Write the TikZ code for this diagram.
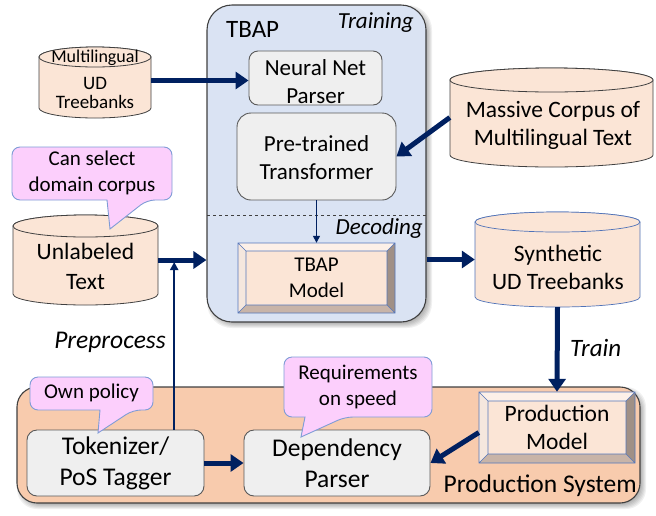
\documentclass[tikz,border=0pt]{standalone}
\usepackage{fontspec}
\setmainfont{Carlito}
\usetikzlibrary{arrows.meta}

\definecolor{navy}{HTML}{002060}
\definecolor{tbapfill}{HTML}{DAE3F3}
\definecolor{prodfill}{HTML}{F8CBAD}
\definecolor{cylfill}{HTML}{FBE5D6}
\definecolor{boxfill}{HTML}{EFEFEF}
\definecolor{boxline}{HTML}{595959}
\definecolor{frameline}{HTML}{404040}
\definecolor{pinkfill}{HTML}{FCCFFC}
\definecolor{pinkline}{HTML}{7F9CD6}
\definecolor{bevlight}{HTML}{FDF0E8}
\definecolor{bevdark}{HTML}{A09086}
\definecolor{bevmid}{HTML}{C8B4A8}
\definecolor{bevedge}{HTML}{5577BB}
\definecolor{synline}{HTML}{4F72B8}

\newcommand\fsz[2]{\fontsize{#1}{#2}\selectfont}

% database drum: style, left, top, right, bottom, radius of the end ellipses
\newcommand\drum[6]{%
  \path[#1] (#2,#3+#6) -- (#2,#5-#6)
    arc[start angle=180, end angle=0, x radius={(#4-#2)/2}, y radius=#6]
    -- (#4,#3+#6)
    arc[start angle=0, end angle=-180, x radius={(#4-#2)/2}, y radius=#6] -- cycle;
  \path[#1] ({(#2+#4)/2},#3+#6) ellipse[x radius={(#4-#2)/2}, y radius=#6];
}

% bevelled model box: left, top, right, bottom, bevel depth
\newcommand\bevel[5]{%
  \fill[bevlight] (#1,#2) -- (#3,#2) -- (#3-#5,#2+#5) -- (#1+#5,#2+#5) -- cycle;
  \fill[bevlight!85!bevmid] (#1,#2) -- (#1+#5,#2+#5) -- (#1+#5,#4-#5) -- (#1,#4) -- cycle;
  \fill[bevdark] (#3,#2) -- (#3,#4) -- (#3-#5,#4-#5) -- (#3-#5,#2+#5) -- cycle;
  \fill[bevmid] (#1,#4) -- (#3,#4) -- (#3-#5,#4-#5) -- (#1+#5,#4-#5) -- cycle;
  \fill[cylfill] (#1+#5,#2+#5) rectangle (#3-#5,#4-#5);
  \draw[bevedge, line width=0.6pt] (#1,#2) rectangle (#3,#4)
    (#1+#5,#2+#5) rectangle (#3-#5,#4-#5)
    (#1,#2) -- (#1+#5,#2+#5) (#3,#2) -- (#3-#5,#2+#5)
    (#1,#4) -- (#1+#5,#4-#5) (#3,#4) -- (#3-#5,#4-#5);
}

% speech balloon: left, top, right, bottom, pointer base left, base right, tip x, tip y
\newcommand\balloon[8]{%
  \draw[balloonst] ({(#1+#3)/2},#2) [rounded corners=8pt] -- (#3,#2) -- (#3,#4) -- (#6,#4)
    [sharp corners] -- (#7,#8) -- (#5,#4) [rounded corners=8pt] -- (#1,#4) -- (#1,#2) -- cycle;
}

% soft shadow below and right of a rounded frame: left, top, right, bottom, radius
\newcommand\softshadow[5]{%
  \foreach \k in {0,...,5}{%
    \fill[black, opacity=0.06, rounded corners=#5pt]
      (#1+5-\k,#2+5-\k) rectangle (#3+1+\k,#4+1+\k);}%
}

\begin{document}
\begin{tikzpicture}[x=1pt, y=-1pt,
  arr/.style={draw=navy, line width=5pt, -{Triangle[length=13pt,width=17pt]}},
  thinarr/.style={draw=navy, line width=2pt, -{Triangle[length=8pt,width=8pt]}},
  hairarr/.style={draw=navy, line width=1.4pt, -{Triangle[length=7pt,width=7pt]}},
  procbox/.style={draw=boxline, line width=0.9pt, fill=boxfill, rounded corners=9pt,
    inner sep=0pt, align=center},
  cylst/.style={fill=cylfill, draw=frameline, line width=0.8pt},
  synst/.style={fill=cylfill, draw=synline, line width=0.7pt},
  txt/.style={inner sep=0pt, align=center},
  balloonst/.style={fill=pinkfill, draw=pinkline, line width=0.9pt},
  frame/.style={draw=frameline, line width=1.1pt, inner sep=0pt},
]
\useasboundingbox (0,0) rectangle (656,515);

% ---- TBAP block ----
\softshadow{207}{5}{426}{322}{25}
\node[frame, fill=tbapfill, rounded corners=25pt, minimum width=219pt, minimum height=317pt]
  (tbap) at (316.5,163.5) {};
\node[txt, anchor=base west, font=\fsz{25}{30}] (tbaplbl) at (226,37) {TBAP};
\node[txt, anchor=base east, font=\fsz{23}{28}\itshape] (training) at (414,28) {Training};
\draw[dashed, line width=0.7pt, frameline] (207,215) -- (426,215);
\node[txt, anchor=base east, font=\fsz{23}{28}\itshape] (decoding) at (423,234) {Decoding};

\node[procbox, minimum width=133pt, minimum height=54pt, font=\fsz{23}{28}]
  (nnp) at (315.5,78) {\rule{0pt}{23pt}Neural Net\\Parser};
\node[procbox, rounded corners=14pt, minimum width=159pt, minimum height=87pt, font=\fsz{23}{28}]
  (trf) at (316.5,156.5) {\rule{0pt}{19pt}Pre-trained\\Transformer};
\bevel{238}{243}{395}{313}{8}
\node[txt, minimum width=157pt, minimum height=70pt, font=\fsz{21}{26}]
  (model) at (316.5,278) {TBAP\\Model};
\draw[hairarr] (trf.south) -- (model.north);

% ---- data stores ----
\drum{cylst}{39}{47}{151}{118}{10}
\node[txt, minimum width=112pt, minimum height=71pt] (udtb) at (95,82.5) {};
\node[txt, font=\fsz{18}{20}] (udtop) at (95,57.5) {Multilingual};
\node[txt, font=\fsz{19}{19}] (udbody) at (95,93) {UD\\Treebanks};

\drum{cylst}{450}{68}{653}{167}{12}
\node[txt, minimum width=203pt, minimum height=99pt] (mc) at (551.5,117.5) {};
\node[txt, font=\fsz{23.5}{28}] (mctxt) at (553,125) {Massive Corpus of\\Multilingual Text};

\drum{synst}{475}{212}{640}{307}{10}
\node[txt, minimum width=165pt, minimum height=95pt] (syn) at (557.5,259.5) {};
\node[txt, font=\fsz{23.5}{28}] (syntxt) at (558,267) {Synthetic\\UD Treebanks};

\drum{cylst}{13}{215}{158}{305}{11}
\node[txt, minimum width=145pt, minimum height=90pt] (unl) at (85.5,260) {};
\node[txt, font=\fsz{23.5}{30}] (unltxt) at (85.5,266) {Unlabeled\\Text};

% ---- production system ----
\softshadow{17}{387}{640}{503}{20}
\node[frame, fill=prodfill, rounded corners=20pt, minimum width=623pt, minimum height=116pt]
  (prod) at (328.5,445) {};
\node[txt, anchor=base east, font=\fsz{25.5}{30}] (prodlbl) at (637,492) {Production System};

\node[procbox, rounded corners=10pt, minimum width=177pt, minimum height=66pt, font=\fsz{25.5}{31}]
  (tok) at (115.5,463) {Tokenizer/\\PoS Tagger};
\node[procbox, rounded corners=10pt, minimum width=186pt, minimum height=66pt, font=\fsz{25.5}{31}]
  (dep) at (337,463) {Dependency\\Parser};
\bevel{479}{392}{635}{463}{9}
\node[txt, minimum width=156pt, minimum height=71pt, font=\fsz{23.5}{28}]
  (pm) at (557,427.5) {Production\\Model};

% ---- step labels ----
\node[txt, anchor=base, font=\fsz{25.5}{30}\itshape] (prep) at (110,348) {Preprocess};
\node[txt, anchor=base west, font=\fsz{25}{30}\itshape] (train) at (570,356) {Train};

% ---- connectors ----
\coordinate (ppjoin) at ([xshift=16pt]unl.east);
\draw[thinarr, shorten >=2pt] (tok.north -| ppjoin) -- (ppjoin);
\coordinate (udout) at ([yshift=2pt]udtb.east);
\draw[arr] (udout) -- (udout -| nnp.west);
\draw[arr] (mc.west) -- (trf.east);
\draw[arr] (unl.east) -- (unl.east -| tbap.west);
\draw[arr] (tbap.east |- syn.west) -- (syn.west);
\draw[arr] (syn.south) -- (pm.north);
\draw[arr] (tok.east) -- (dep.west);
\coordinate (pmout) at ([yshift=-5pt]pm.west);
\draw[arr] (pmout) -- (dep.east);

% ---- remarks ----
\balloon{12}{147}{172}{200}{107}{147}{110}{229}
\node[txt, font=\fsz{21}{26}] (sel) at (92,173) {Can select\\domain corpus};
\balloon{30}{377}{153}{410}{100}{133}{98}{433}
\node[txt, font=\fsz{21}{26}] (own) at (91.5,393) {Own policy};
\balloon{284}{357}{432}{417}{305}{345}{301}{437}
\node[txt, font=\fsz{21}{26}] (req) at (358,387) {Requirements\\on speed};
\end{tikzpicture}
\end{document}
